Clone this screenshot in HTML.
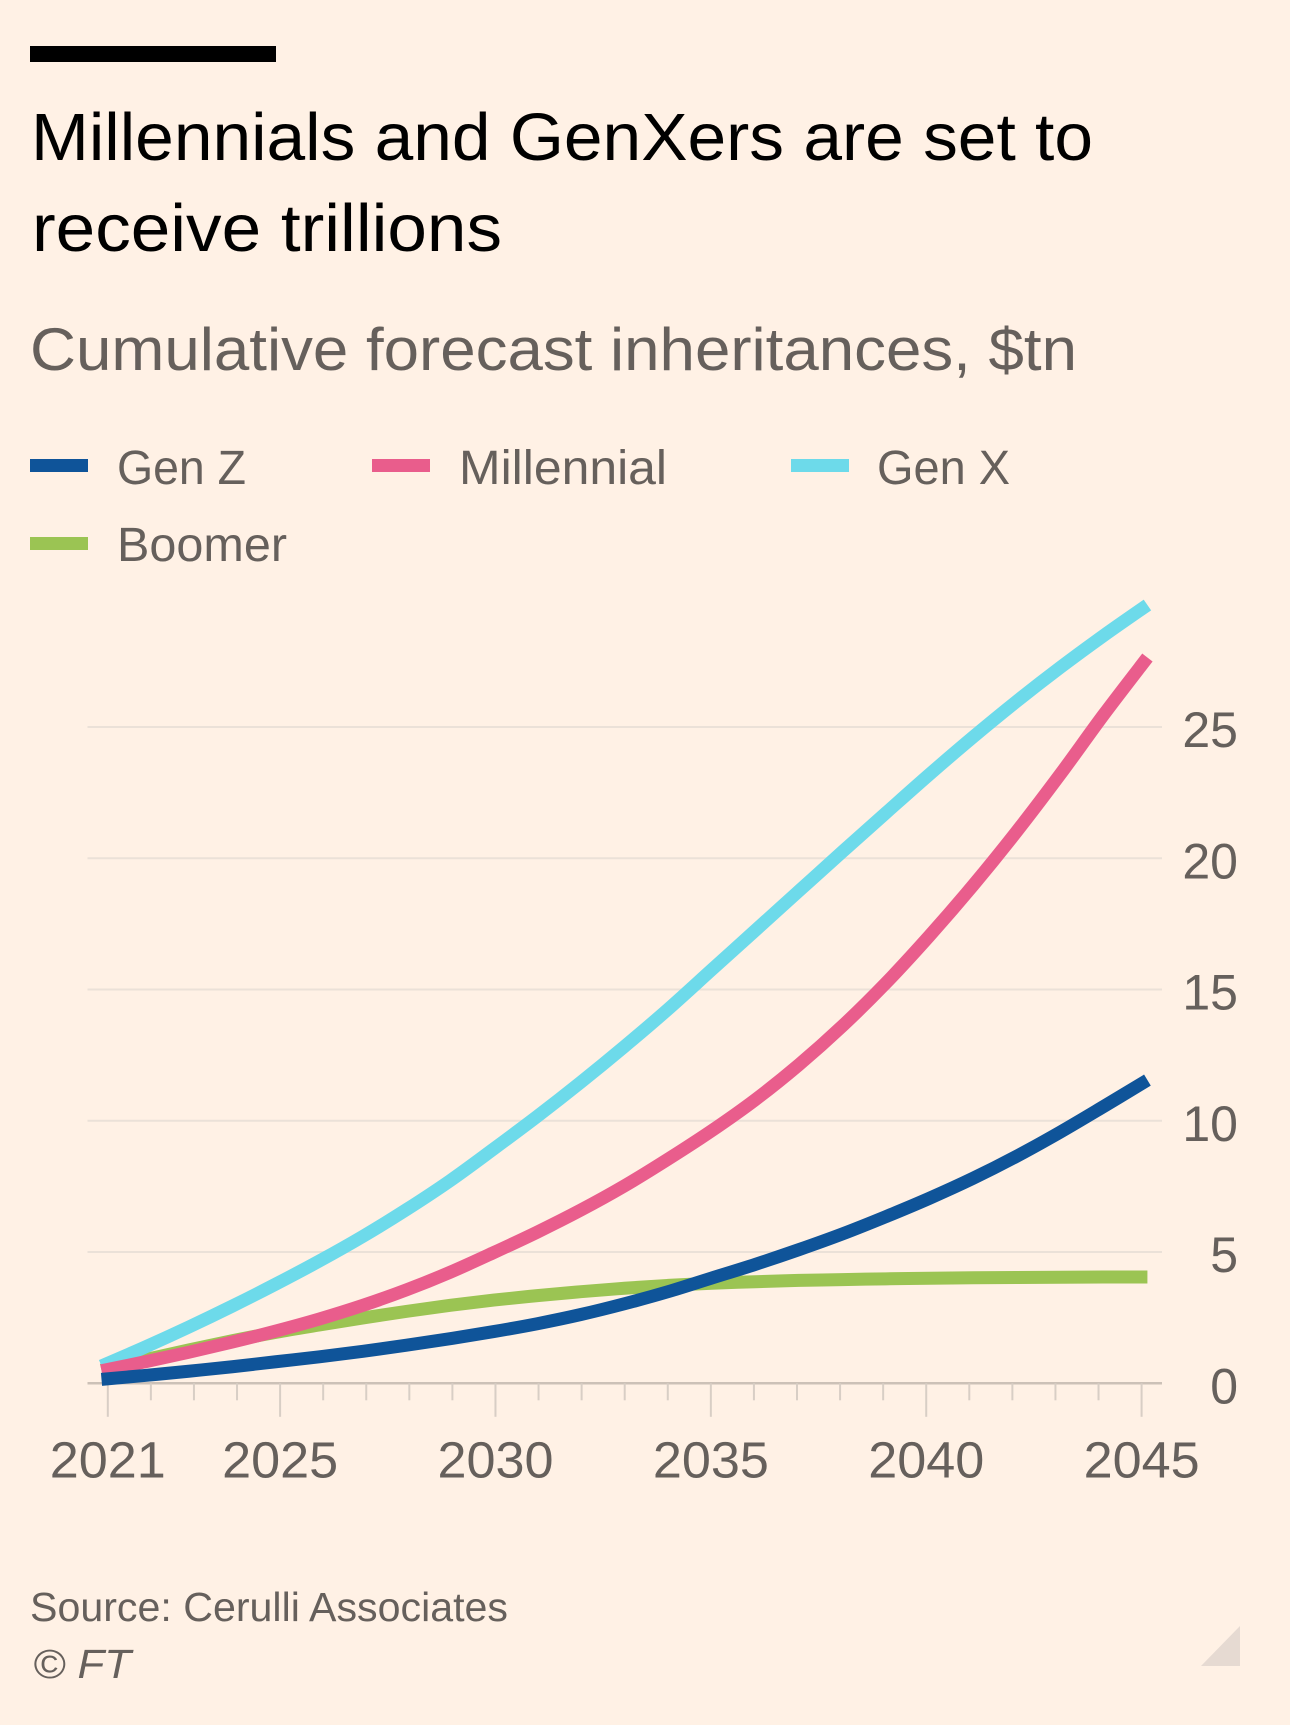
<!DOCTYPE html>
<html lang="en">
<head>
<meta charset="utf-8">
<title>Millennials and GenXers are set to receive trillions</title>
<style>
  html, body { margin: 0; padding: 0; background: #fff1e5; }
  body { width: 1290px; height: 1725px; overflow: hidden; }
  svg { display: block; }
  text { font-family: "Liberation Sans", sans-serif; }
</style>
</head>
<body>
<svg id="chart" xmlns="http://www.w3.org/2000/svg" width="1290" height="1725" viewBox="0 0 1290 1725">
  <rect x="0" y="0" width="1290" height="1725" fill="#fff1e5"/>
  <rect x="30" y="46" width="246" height="16" fill="#000"/>
  <text x="31" y="160" font-size="67" fill="#000" textLength="1062" lengthAdjust="spacingAndGlyphs">Millennials and GenXers are set to</text>
  <text x="32" y="251" font-size="67" fill="#000" textLength="470" lengthAdjust="spacingAndGlyphs">receive trillions</text>
  <text x="30" y="370" font-size="60" fill="#66605c" textLength="1047" lengthAdjust="spacingAndGlyphs">Cumulative forecast inheritances, $tn</text>

  <g>
    <g>
      <rect x="30" y="459" width="58" height="13" fill="#0f5499"/>
      <text x="117" y="484" font-size="48" fill="#66605c" textLength="129" lengthAdjust="spacingAndGlyphs">Gen Z</text>
    </g>
    <g>
      <rect x="372" y="459" width="58" height="13" fill="#e95d8c"/>
      <text x="459" y="484" font-size="48" fill="#66605c" textLength="208" lengthAdjust="spacingAndGlyphs">Millennial</text>
    </g>
    <g>
      <rect x="791" y="459" width="58" height="13" fill="#6ddaea"/>
      <text x="877" y="484" font-size="48" fill="#66605c" textLength="133" lengthAdjust="spacingAndGlyphs">Gen X</text>
    </g>
    <g>
      <rect x="30" y="537" width="58" height="13" fill="#9bc453"/>
      <text x="117" y="561" font-size="48" fill="#66605c" textLength="170" lengthAdjust="spacingAndGlyphs">Boomer</text>
    </g>
  </g>

  <g id="plot"></g>

  <text x="30" y="1621" font-size="41" fill="#66605c" textLength="478" lengthAdjust="spacingAndGlyphs">Source: Cerulli Associates</text>
  <text x="33" y="1678" font-size="41" font-style="italic" fill="#66605c" textLength="98" lengthAdjust="spacingAndGlyphs">© FT</text>
  <polygon points="1240,1626 1240,1666 1201,1666" fill="#e6dad2"/>
</svg>

<script>
// Chart data
const years = [2021,2022,2023,2024,2025,2026,2027,2028,2029,2030,2031,2032,2033,2034,2035,2036,2037,2038,2039,2040,2041,2042,2043,2044,2045];
const genZ = [0.15,0.30,0.46,0.63,0.82,1.01,1.22,1.45,1.70,1.97,2.27,2.62,3.03,3.49,4.01,4.53,5.09,5.69,6.35,7.05,7.81,8.65,9.57,10.55,11.55];
const millennial = [0.48,0.82,1.18,1.57,1.99,2.45,2.97,3.56,4.23,4.98,5.76,6.60,7.52,8.54,9.62,10.80,12.13,13.61,15.25,17.05,18.97,21.02,23.20,25.48,27.65];
const genX = [0.66,1.38,2.14,2.94,3.78,4.66,5.60,6.62,7.72,8.93,10.17,11.47,12.83,14.25,15.75,17.25,18.75,20.25,21.73,23.20,24.62,25.98,27.27,28.49,29.65];
const boomer = [0.5,0.90,1.27,1.62,1.94,2.22,2.49,2.74,2.97,3.17,3.34,3.49,3.62,3.73,3.81,3.87,3.92,3.95,3.98,4.0,4.02,4.03,4.04,4.05,4.05];
const yTickValues = [0,5,10,15,20,25];
const xTickYears = [2021,2025,2030,2035,2040,2045];
const seriesNames = ['boomer','gen-x','millennial','gen-z'];

const NS = 'http://www.w3.org/2000/svg';
const plot = document.getElementById('plot');

// Axis functions
function yScale(v) { return 1383.3 - v * 26.25; }
function tickX(year) { return 107.8 + (year - 2021) * 43.075; }
function lineX(year) { return 101.5 + (year - 2021) * 43.58; }

function make(tag, attrs) {
  const el = document.createElementNS(NS, tag);
  for (const k in attrs) el.setAttribute(k, attrs[k]);
  plot.appendChild(el);
  return el;
}

// Horizontal gridlines and baseline
yTickValues.forEach(function (v) {
  const line = make('line', {
    x1: 87.5, x2: 1162, y1: yScale(v), y2: yScale(v),
    stroke: v === 0 ? '#ccc1b7' : '#ebe1d8',
    'stroke-width': v === 0 ? 2.5 : 2
  });
  
  
});

// X ticks (every year; labelled years are longer)
years.forEach(function (yr) {
  const major = xTickYears.indexOf(yr) !== -1;
  const tick = make('line', {
    x1: tickX(yr), x2: tickX(yr), y1: yScale(0), y2: yScale(0) + (major ? 33.5 : 17),
    stroke: '#d8cec5',
    'stroke-width': 2
  });
  
  
});

// Y tick labels
yTickValues.forEach(function (v) {
  const t = make('text', {
    x: 1238, y: yScale(v) + 20, 'text-anchor': 'end', 'font-size': 50, fill: '#66605c'
  });
  t.textContent = String(v);
  
  
});

// X tick labels
xTickYears.forEach(function (yr) {
  const t = make('text', {
    x: tickX(yr), y: 1477.5, 'text-anchor': 'middle', 'font-size': 51, fill: '#66605c',
    textLength: 116, lengthAdjust: 'spacingAndGlyphs'
  });
  t.textContent = String(yr);
  
  
});

// Smooth path through the data points (Catmull-Rom to Bezier)
function smoothPath(values) {
  const pts = values.map(function (v, i) { return [lineX(years[i]), yScale(v)]; });
  let d = 'M' + pts[0][0].toFixed(2) + ' ' + pts[0][1].toFixed(2);
  for (let i = 0; i < pts.length - 1; i++) {
    const p0 = pts[Math.max(i - 1, 0)];
    const p1 = pts[i];
    const p2 = pts[i + 1];
    const p3 = pts[Math.min(i + 2, pts.length - 1)];
    const c1x = p1[0] + (p2[0] - p0[0]) / 6;
    const c1y = p1[1] + (p2[1] - p0[1]) / 6;
    const c2x = p2[0] - (p3[0] - p1[0]) / 6;
    const c2y = p2[1] - (p3[1] - p1[1]) / 6;
    d += 'C' + c1x.toFixed(2) + ' ' + c1y.toFixed(2) + ' ' + c2x.toFixed(2) + ' ' + c2y.toFixed(2) + ' ' + p2[0].toFixed(2) + ' ' + p2[1].toFixed(2);
  }
  return d;
}

// Series lines, painted bottom to top
const seriesValues = { 'boomer': boomer, 'gen-x': genX, 'millennial': millennial, 'gen-z': genZ };
const seriesColours = { 'boomer': '#9bc453', 'gen-x': '#6ddaea', 'millennial': '#e95d8c', 'gen-z': '#0f5499' };
seriesNames.forEach(function (name) {
  const path = make('path', {
    d: smoothPath(seriesValues[name]),
    fill: 'none',
    stroke: seriesColours[name],
    'stroke-width': 13,
    'stroke-linecap': 'butt',
    'stroke-linejoin': 'round'
  });
  
  
});
</script>
</body>
</html>
